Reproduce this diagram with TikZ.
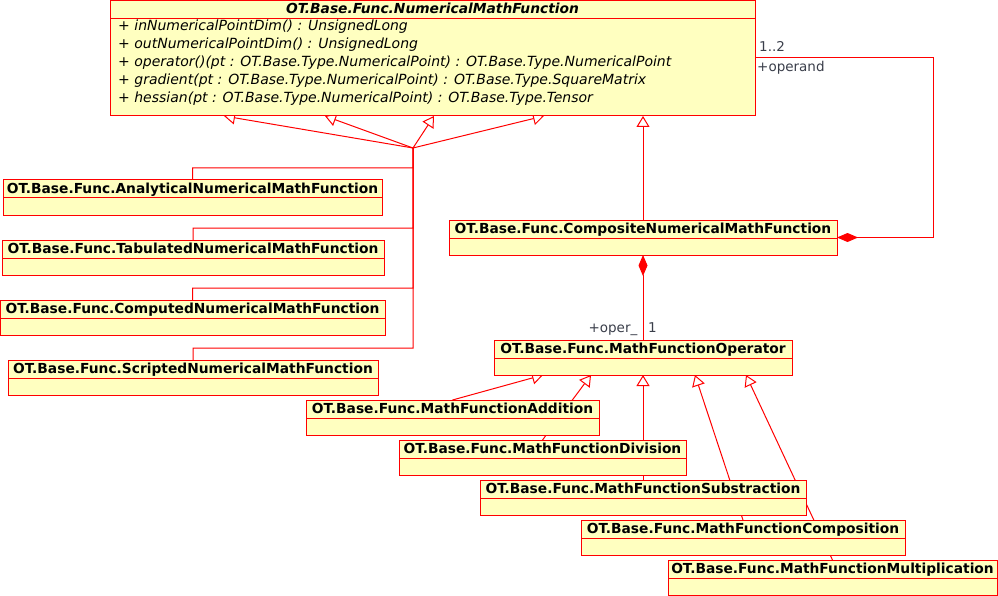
\documentclass[tikz,border=0pt]{standalone}
\usepackage{fontspec}
\setmainfont{DejaVu Sans}[ItalicFont={DejaVu Sans Oblique},BoldItalicFont={DejaVu Sans Bold Oblique}]
\usetikzlibrary{arrows.meta,calc}
\definecolor{boxfill}{RGB}{255,255,192}
\definecolor{umlred}{RGB}{255,0,0}
\definecolor{lblcol}{RGB}{58,62,74}
\pgfdeclarelayer{bg}
\pgfsetlayers{bg,main}
\tikzset{
  cls/.style={draw=umlred, fill=boxfill, line width=1pt, rectangle, inner sep=0pt, outer sep=0pt},
  sepline/.style={draw=umlred, line width=1pt},
  ttl/.style={font=\fontsize{13.8}{16}\selectfont\bfseries, anchor=base, inner sep=0pt},
  meth/.style={font=\fontsize{14}{16}\selectfont\itshape, anchor=base west, inner sep=0pt},
  lbl/.style={font=\fontsize{13.5}{15}\selectfont, text=lblcol, inner sep=0pt},
  gen/.style={draw=umlred, line width=1pt, -{Triangle[open,length=11pt,width=13pt]}},
  compo/.style={draw=umlred, line width=1pt, {Diamond[length=21pt,width=9pt,fill=umlred]}-},
}
\newcommand\umlclass[6]{%
  \pgfmathsetmacro\clsw{#4-#2}\pgfmathsetmacro\clsh{#5-#3}%
  \node[cls, minimum width=\clsw pt, minimum height=\clsh pt, anchor=north west] (#1) at (#2,#3) {};
  \draw[sepline] ([yshift=-18pt]#1.north west) -- ([yshift=-18pt]#1.north east);
  \node[ttl] (#1-t) at ({(#2+#4)/2},{#3+13.5}) {#6};
}
\begin{document}
\begin{tikzpicture}[x=1pt,y=-1pt]
\useasboundingbox (0,0) rectangle (998,596);
% main abstract class
\node[cls, minimum width=645pt, minimum height=115pt, anchor=north west] (nmf) at (110,1) {};
\draw[sepline] ([yshift=-18pt]nmf.north west) -- ([yshift=-18pt]nmf.north east);
\node[ttl, font=\fontsize{13.8}{16}\selectfont\bfseries\itshape] (nmf-t) at (432.5,14) {OT.Base.Func.NumericalMathFunction};
\node[meth] (m1) at (118,31) {+ inNumericalPointDim() : UnsignedLong};
\node[meth] (m2) at (118,49) {+ outNumericalPointDim() : UnsignedLong};
\node[meth] (m3) at (118,67) {+ operator()(pt : OT.Base.Type.NumericalPoint) : OT.Base.Type.NumericalPoint};
\node[meth] (m4) at (118,85) {+ gradient(pt : OT.Base.Type.NumericalPoint) : OT.Base.Type.SquareMatrix};
\node[meth] (m5) at (118,103) {+ hessian(pt : OT.Base.Type.NumericalPoint) : OT.Base.Type.Tensor};
% subclasses
\umlclass{ana}{3}{180}{382}{215}{OT.Base.Func.AnalyticalNumericalMathFunction}
\umlclass{tab}{2}{240}{384}{275}{OT.Base.Func.TabulatedNumericalMathFunction}
\umlclass{cpd}{0}{300}{385}{335}{OT.Base.Func.ComputedNumericalMathFunction}
\umlclass{scr}{8}{360}{378}{395}{OT.Base.Func.ScriptedNumericalMathFunction}
\umlclass{comp}{449}{220}{837}{255}{OT.Base.Func.CompositeNumericalMathFunction}
\umlclass{op}{494}{340}{792}{375}{OT.Base.Func.MathFunctionOperator}
\umlclass{add}{306}{400}{599}{435}{OT.Base.Func.MathFunctionAddition}
\umlclass{div}{399}{440}{686}{475}{OT.Base.Func.MathFunctionDivision}
\umlclass{sub}{480}{480}{806}{515}{OT.Base.Func.MathFunctionSubstraction}
\umlclass{cmpn}{581}{520}{905}{555}{OT.Base.Func.MathFunctionComposition}
\umlclass{mul}{668}{560}{997}{595}{OT.Base.Func.MathFunctionMultiplication}
% coordinates
\coordinate (bus) at (413,148);
\coordinate (t1) at (224,116);
\coordinate (t2) at (325,116);
\coordinate (t3) at (434,116);
\coordinate (t4) at (544,116);
\coordinate (a1) at (543,375);
\coordinate (a2) at (591,375);
\coordinate (a4) at (695,375);
\coordinate (a5) at (746,375);
\coordinate (sc1) at (933,237.5);
\coordinate (sc2) at (933,58);
% labels
\node[lbl, anchor=base west] (l12) at (759,52) {1..2};
\node[lbl, anchor=base west] (lopd) at (757,71.5) {+operand};
\node[lbl, anchor=base east] (loper) at (637.5,332) {+oper\_};
\node[lbl, anchor=base west] (lone) at (648,332) {1};
\begin{pgfonlayer}{bg}
\draw[gen] (ana.north) -- ++(0,-12) -| (bus) -- (t1);
\draw[gen] (tab.north) -- ++(0,-12) -| (bus) -- (t2);
\draw[gen] (cpd.north) -- ++(0,-12) -| (bus) -- (t3);
\draw[gen] (scr.north) -- ++(0,-12) -| (bus) -- (t4);
\draw[gen] (comp.north) -- (comp.north |- nmf.south);
\draw[compo] (comp.east) -- (sc1) -- (sc2) -- ([yshift=-57pt]nmf.north east);
\draw[compo] (comp.south) -- (op.north);
\draw[gen] (add.north) -- (a1);
\draw[gen] (div.north) -- (a2);
\draw[gen] (sub.north) -- (sub.north |- op.south);
\draw[gen] (cmpn.north) -- (a4);
\draw[gen] (mul.north) -- (a5);
\end{pgfonlayer}
\end{tikzpicture}
\end{document}
